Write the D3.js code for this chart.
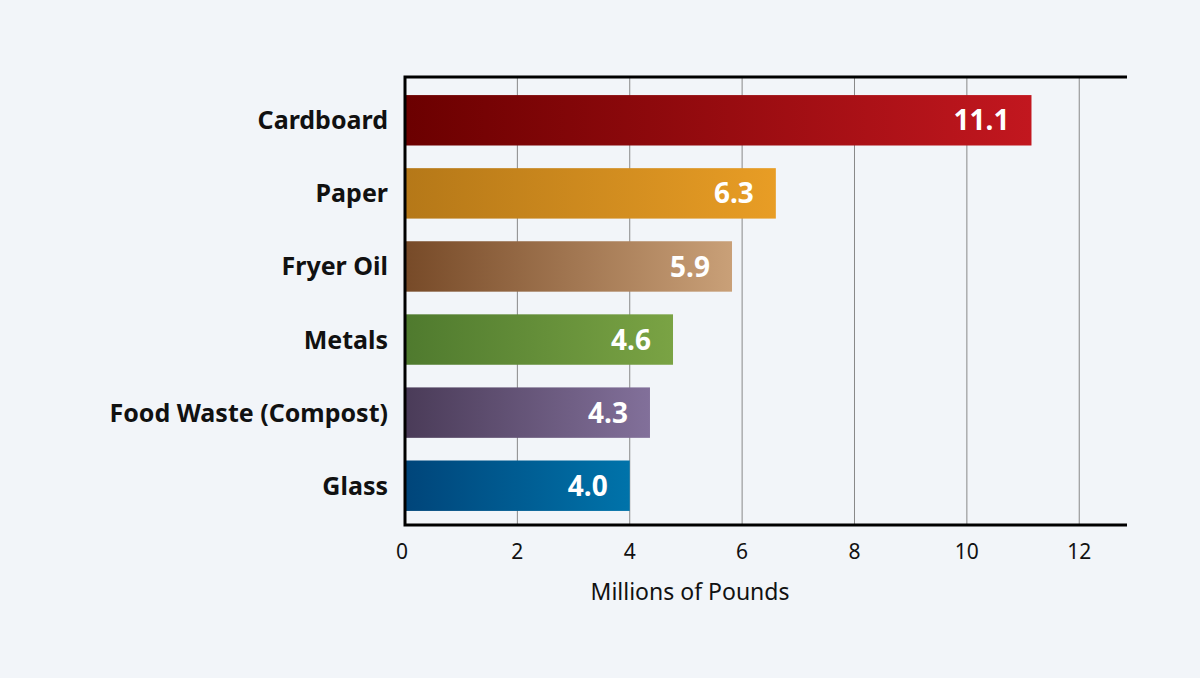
<!DOCTYPE html>
<html><head><meta charset="utf-8">
<script src="https://cdn.jsdelivr.net/npm/d3@7"></script>
<style>
body{margin:0;background:#f2f5f9;font-family:"Noto Sans","Open Sans",sans-serif}
</style></head><body><div id="graph"></div>
<script>
var categories = ['Cardboard','Paper','Fryer Oil','Metals','Food Waste (Compost)','Glass']
var barValues = [11.15, 6.6, 5.82, 4.77, 4.36, 4.0]
var labels = ['11.1','6.3','5.9','4.6','4.3','4.0']
var colorsFrom = ['#6b0000','#b57818','#774a28','#4f7a2e','#4a3b58','#00457a']
var colorsTo = ['#c2171f','#e89d25','#c9a078','#7aa344','#82709a','#0073aa']
var ticks = [0,2,4,6,8,10,12]

var W = 1200, H = 678
var m = {left: 405, right: 73, top: 77, bottom: 153}
var svg = d3.select('#graph').append('svg').attr('width', W).attr('height', H)
svg.append('rect').attr('width', W).attr('height', H).attr('fill', '#f2f5f9')

var x = d3.scaleLinear().domain([0, 12.85]).range([m.left, W - m.right])
var y = d3.scaleBand().domain(categories).range([m.top + 2, H - m.bottom + 2]).paddingInner(0.31).paddingOuter(0.22)

var defs = svg.append('defs')
categories.forEach(function(c, i){
  var g = defs.append('linearGradient').attr('id', 'g' + i)
  g.append('stop').attr('offset', '0%').attr('stop-color', colorsFrom[i])
  g.append('stop').attr('offset', '100%').attr('stop-color', colorsTo[i])
})

svg.selectAll('line.grid').data(ticks.slice(1)).join('line')
    .attr('x1', x).attr('x2', x).attr('y1', m.top).attr('y2', H - m.bottom)
    .attr('stroke', '#888').attr('stroke-width', 1)

svg.selectAll('rect.bar').data(categories).join('rect')
    .attr('x', x(0)).attr('y', d => y(d))
    .attr('width', (d, i) => x(barValues[i]) - x(0)).attr('height', y.bandwidth())
    .attr('fill', (d, i) => 'url(#g' + i + ')')

svg.selectAll('text.val').data(categories).join('text')
    .attr('x', (d, i) => x(barValues[i]) - 22).attr('y', d => y(d) + y.bandwidth() / 2)
    .attr('dy', '.36em').attr('text-anchor', 'end')
    .attr('fill', '#fff').attr('font-weight', 'bold').attr('font-size', 28)
    .text((d, i) => labels[i])

svg.selectAll('text.cat').data(categories).join('text')
    .attr('x', m.left - 17).attr('y', d => y(d) + y.bandwidth() / 2)
    .attr('dy', '.36em').attr('text-anchor', 'end')
    .attr('font-weight', 'bold').attr('font-size', 25).attr('fill', '#111')
    .text(d => d)

// frame: top, left, bottom
svg.append('path')
    .attr('d', 'M' + (W - m.right) + ',' + m.top + 'H' + m.left + 'V' + (H - m.bottom) + 'H' + (W - m.right))
    .attr('fill', 'none').attr('stroke', '#000').attr('stroke-width', 3)

svg.selectAll('text.tick').data(ticks).join('text')
    .attr('x', d => x(d) - (d === 0 ? 3 : 0)).attr('y', H - m.bottom + 34)
    .attr('text-anchor', 'middle').attr('font-size', 21).attr('fill', '#111')
    .text(d => d)

svg.append('text').attr('x', 690).attr('y', 600).attr('text-anchor', 'middle')
    .attr('font-size', 23).attr('fill', '#111').text('Millions of Pounds')
</script></body></html>
